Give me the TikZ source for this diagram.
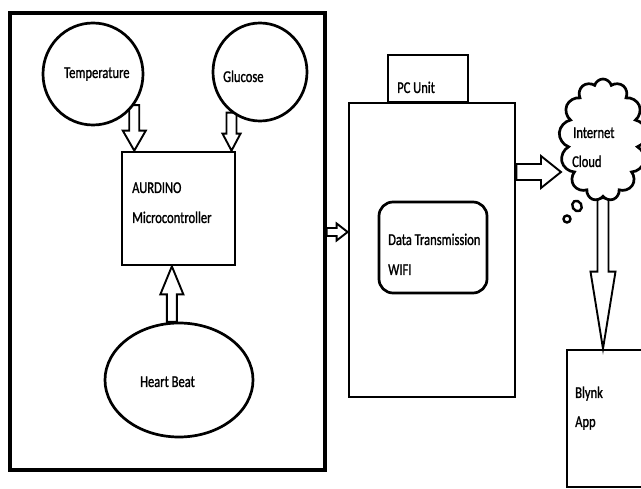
\documentclass[tikz,border=0pt]{standalone}
\usepackage{fontspec}
\setmainfont[FakeStretch=0.76,FakeBold=1.2]{Carlito}
\usetikzlibrary{shapes.geometric,shapes.symbols,calc}
\pgfdeclarelayer{bg}\pgfsetlayers{bg,main}
\tikzset{
  box/.style={draw, line width=2.7pt, inner sep=0pt, rectangle},
  oval/.style={draw, line width=2.7pt, fill=white, inner sep=0pt, ellipse},
  lbl/.style={anchor=base west, inner sep=0pt, font=\fontsize{16.5}{18}\selectfont},
  barrow/.style={draw, line width=1.9pt, fill=white, line join=miter},
}
% block arrow: tail, tip, half shaft width, half head width, head length
\newcommand\blockarr[5]{%
  \draw[barrow] let \p1=(#1), \p2=(#2),
    \n1={veclen(\x2-\x1,\y2-\y1)}, \n2={(\x2-\x1)/\n1}, \n3={(\y2-\y1)/\n1}, \n4={\n1-(#5)}
  in ({\x1+(#3)*\n3},{\y1-(#3)*\n2})
  -- ({\x1+\n4*\n2+(#3)*\n3},{\y1+\n4*\n3-(#3)*\n2})
  -- ({\x1+\n4*\n2+(#4)*\n3},{\y1+\n4*\n3-(#4)*\n2})
  -- (\x2,\y2)
  -- ({\x1+\n4*\n2-(#4)*\n3},{\y1+\n4*\n3+(#4)*\n2})
  -- ({\x1+\n4*\n2-(#3)*\n3},{\y1+\n4*\n3+(#3)*\n2})
  -- ({\x1-(#3)*\n3},{\y1+(#3)*\n2}) -- cycle;}
\begin{document}
\begin{tikzpicture}[x=1pt,y=-1pt]
\useasboundingbox (0,0) rectangle (641,489);
% left block
\node[box, line width=3.2pt, minimum width=315, minimum height=457] (outer) at (167.5,241.5) {};
\node[oval, minimum width=100, minimum height=102] (temp) at (93,74) {};
\node[oval, minimum width=94, minimum height=98] (gluc) at (260,72) {};
\node[box, fill=white, minimum width=113, minimum height=113] (micro) at (178.5,208.5) {};
\node[oval, minimum width=148, minimum height=114] (heart) at (179,380) {};
\node[lbl] (ttemp) at (64,78) {Temperature};
\node[lbl] (tgluc) at (223,82) {Glucose};
\node[lbl] (tmic1) at (132,193) {AURDINO};
\node[lbl] (tmic2) at (132,223) {Microcontroller};
\node[lbl] (theart) at (140,387) {Heart Beat};
% PC unit
\node[box, minimum width=80, minimum height=47] (pcunit) at (428,78.5) {};
\node[box, fill=white, minimum width=166, minimum height=294] (pc) at (432,250) {};
\node[box, rounded corners=14pt, minimum width=108, minimum height=91] (dt) at (433,247.5) {};
\node[lbl] (tpc) at (397,93) {PC Unit};
\node[lbl] (tdt1) at (388,245) {Data Transmission};
\node[lbl] (tdt2) at (388,275) {WIFI};
% cloud
\node[draw, line width=2.7pt, fill=white, cloud, cloud puffs=13, cloud ignores aspect,
      minimum width=88, minimum height=122, inner sep=0pt] (cloud) at (603,140) {};
\node[draw, line width=2.4pt, ellipse, minimum width=9, minimum height=11, inner sep=0pt, rotate=30] (bub1) at (577,206) {};
\node[draw, line width=2.4pt, circle, minimum size=7, inner sep=0pt] (bub2) at (567,219) {};
\node[lbl] (tcl1) at (573,138) {Internet};
\node[lbl] (tcl2) at (572,167) {Cloud};
% Blynk
\node[box, minimum width=83, minimum height=137] (blynk) at (608.5,418.5) {};
\node[lbl] (tbl1) at (575,398) {Blynk};
\node[lbl] (tbl2) at (575,427) {App};
\coordinate (a1) at (0,232);
\coordinate (a2) at (561,172);
\begin{pgfonlayer}{bg}
\blockarr{temp.-37}{temp.-37 |- micro.north}{5}{11.5}{20}
\blockarr{gluc.-125}{gluc.-125 |- micro.north}{5}{9}{17}
\blockarr{heart.97}{heart.97 |- micro.south}{5}{11.5}{28}
\blockarr{outer.east |- a1}{pc.west |- a1}{4}{8.5}{11}
\blockarr{pc.east |- a2}{a2}{8}{16}{20}
\blockarr{cloud.south}{cloud.south |- blynk.north}{5.5}{12.5}{77}
\end{pgfonlayer}
\end{tikzpicture}
\end{document}
